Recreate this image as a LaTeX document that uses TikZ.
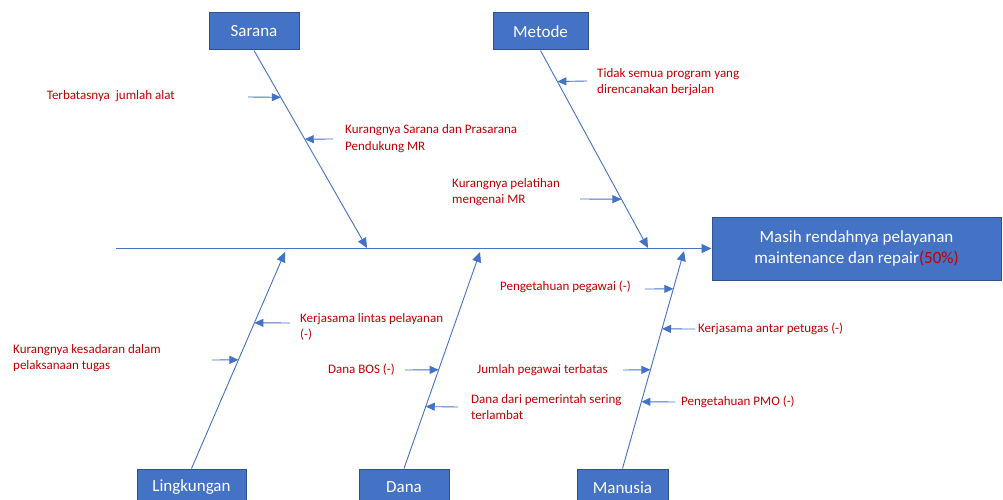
\documentclass[tikz,border=0pt]{standalone}
\usepackage{fontspec}
\setmainfont{Carlito}
\usetikzlibrary{arrows.meta,positioning,calc}
\definecolor{boneblue}{HTML}{4472C4}
\definecolor{boxedge}{HTML}{2F528F}
\definecolor{causered}{HTML}{C00000}

\tikzset{
  category/.style={draw=boxedge, line width=1pt, fill=boneblue, text=white,
    minimum height=37pt, inner sep=0pt, font=\fontsize{17}{20}\selectfont},
  cause/.style={text=causered, align=left, inner sep=0pt,
    font=\fontsize{13}{16.5}\selectfont},
  bone/.style={draw=boneblue, line width=0.9pt, -{Triangle[length=10pt,width=9pt]}},
  twig/.style={draw=boneblue, line width=0.9pt, -{Triangle[length=9pt,width=8pt]}}
}

\begin{document}
\begin{tikzpicture}[x=1pt,y=-1pt]
  \clip (0,0) rectangle (1003,500);
  \fill[white] (0,0) rectangle (1003,500);

  % Boxes
  \node[category, minimum width=90pt] (sarana) at (254,31.5) {Sarana};
  \node[category, minimum width=95pt] (metode) at (540.5,31.5) {Metode};
  \node[category, minimum width=109pt] (lingkungan) at (191.5,487.5) {Lingkungan};
  \node[category, minimum width=90pt] (dana) at (404,487.5) {Dana};
  \node[category, minimum width=91pt] (manusia) at (622.5,487.5) {Manusia};
  \node[category, minimum width=289pt, minimum height=63pt, align=center,
    font=\fontsize{17}{21.5}\selectfont] (masalah) at (856.5,248.5)
    {Masih rendahnya pelayanan\\maintenance dan repair{\color{causered}(50\%)}};

  % Spine
  \coordinate (ekor) at (116,248.5);
  \draw[bone] (ekor) -- (masalah.west);

  % Bones
  \coordinate (t-sarana) at (367,248);
  \coordinate (t-metode) at (648,248);
  \coordinate (t-lingkungan) at (285,252);
  \coordinate (t-dana) at (480,252);
  \coordinate (t-manusia) at (684,251);
  \draw[bone] (sarana.south) -- (t-sarana);
  \draw[bone] (metode.south) -- (t-metode);
  \draw[bone] (lingkungan.north) -- (t-lingkungan);
  \draw[bone] (dana.north) -- (t-dana);
  \draw[bone] (manusia.north) -- (t-manusia);

  % Sarana
  \node[cause, anchor=east] (alat) at (175,96) {Terbatasnya\ \ jumlah alat};
  \node[cause, anchor=west] (prasarana) at (345,138.5) {Kurangnya Sarana dan Prasarana\\Pendukung MR};
  \coordinate (s-alat) at ($(sarana.south)!0.237!(t-sarana)$);
  \coordinate (s-prasarana) at ($(sarana.south)!0.449!(t-sarana)$);
  \coordinate (f-alat) at (248,97);
  \coordinate (f-prasarana) at (333,139);
  \draw[twig] (f-alat) -- (s-alat);
  \draw[twig] (f-prasarana) -- (s-prasarana);

  % Metode
  \node[cause, anchor=west] (program) at (597,82) {Tidak semua program yang\\direncanakan berjalan};
  \node[cause, anchor=west] (pelatihan) at (452,192) {Kurangnya pelatihan\\mengenai MR};
  \coordinate (s-program) at ($(metode.south)!0.157!(t-metode)$);
  \coordinate (s-pelatihan) at ($(metode.south)!0.753!(t-metode)$);
  \coordinate (f-program) at (587,81);
  \coordinate (f-pelatihan) at (580,199);
  \draw[twig] (f-program) -- (s-program);
  \draw[twig] (f-pelatihan) -- (s-pelatihan);

  % Lingkungan
  \node[cause, anchor=west] (lintas) at (300,327) {Kerjasama lintas pelayanan\\(-)};
  \node[cause, anchor=west] (kesadaran) at (13,358) {Kurangnya kesadaran dalam\\pelaksanaan tugas};
  \coordinate (s-lintas) at ($(lingkungan.north)!0.673!(t-lingkungan)$);
  \coordinate (s-kesadaran) at ($(lingkungan.north)!0.502!(t-lingkungan)$);
  \coordinate (f-lintas) at (290,323);
  \coordinate (f-kesadaran) at (212,360);
  \draw[twig] (f-lintas) -- (s-lintas);
  \draw[twig] (f-kesadaran) -- (s-kesadaran);

  % Dana
  \node[cause, anchor=east] (bos) at (395,370) {Dana BOS (-)};
  \node[cause, anchor=west] (pemerintah) at (471,407) {Dana dari pemerintah sering\\terlambat};
  \coordinate (s-bos) at ($(dana.north)!0.456!(t-dana)$);
  \coordinate (s-pemerintah) at ($(dana.north)!0.286!(t-dana)$);
  \coordinate (f-bos) at (405,370);
  \coordinate (f-pemerintah) at (458,407);
  \draw[twig] (f-bos) -- (s-bos);
  \draw[twig] (f-pemerintah) -- (s-pemerintah);

  % Manusia
  \node[cause, anchor=east] (pegawai) at (631,287) {Pengetahuan pegawai (-)};
  \node[cause, anchor=west] (petugas) at (698,329) {Kerjasama antar petugas (-)};
  \node[cause, anchor=east] (jumlah) at (608,370) {Jumlah pegawai terbatas};
  \node[cause, anchor=west] (pmo) at (681,402) {Pengetahuan PMO (-)};
  \coordinate (s-pegawai) at ($(manusia.north)!0.826!(t-manusia)$);
  \coordinate (s-petugas) at ($(manusia.north)!0.642!(t-manusia)$);
  \coordinate (s-jumlah) at ($(manusia.north)!0.454!(t-manusia)$);
  \coordinate (s-pmo) at ($(manusia.north)!0.307!(t-manusia)$);
  \coordinate (f-pegawai) at (645,289);
  \coordinate (f-petugas) at (695,329);
  \coordinate (f-jumlah) at (623,370);
  \coordinate (f-pmo) at (675,402);
  \draw[twig] (f-pegawai) -- (s-pegawai);
  \draw[twig] (f-petugas) -- (s-petugas);
  \draw[twig] (f-jumlah) -- (s-jumlah);
  \draw[twig] (f-pmo) -- (s-pmo);
\end{tikzpicture}
\end{document}
